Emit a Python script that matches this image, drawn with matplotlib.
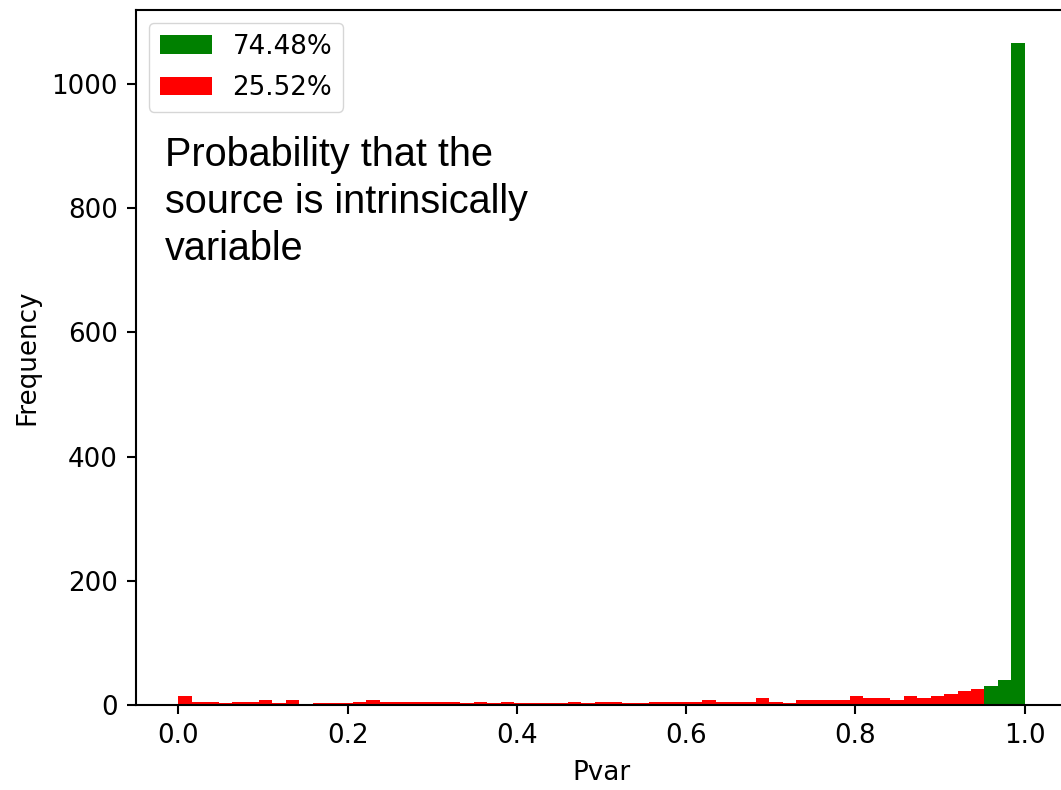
# -*- coding: utf-8 -*-
import numpy as np
import matplotlib
matplotlib.use("Agg")
import matplotlib.pyplot as plt

n_bins = 63
cuentas_rojo = [15, 5, 5, 3, 5, 5, 8, 3, 8, 0,
                3, 3, 3, 5, 8, 5, 5, 5, 5, 5,
                5, 3, 5, 3, 5, 3, 3, 3, 3, 5,
                3, 5, 5, 3, 3, 5, 5, 5, 5, 8,
                5, 5, 5, 11, 5, 3, 8, 8, 8, 8,
                14, 11, 11, 8, 14, 11, 14, 17, 22, 26]
cuentas_verde = [30, 41, 1066]
etiqueta_verde = "74.48%"
etiqueta_rojo = "25.52%"
texto = "Probability that the\nsource is intrinsically\nvariable"

# Escala (la figura original estaba ampliada ~1.88x)
s = 1.88
plt.rcParams.update({
    "font.size": 10 * s,
    "axes.linewidth": 0.8 * s,
    "xtick.major.size": 3.5 * s,
    "ytick.major.size": 3.5 * s,
    "xtick.major.width": 0.8 * s,
    "ytick.major.width": 0.8 * s,
    "xtick.major.pad": 3.5 * s,
    "ytick.major.pad": 3.5 * s,
    "axes.labelpad": 4 * s,
})

bordes = np.linspace(0, 1, n_bins + 1)
centros = (bordes[:-1] + bordes[1:]) / 2
n_rojo = len(cuentas_rojo)

fig = plt.figure(figsize=(10.61, 7.9), dpi=100)
ax = fig.add_axes([136 / 1061, 85 / 790, 931 / 1061, 695 / 790])

ax.hist(centros[n_rojo:], bins=bordes[n_rojo:], weights=cuentas_verde,
        color="green", label=etiqueta_verde)
ax.hist(centros[:n_rojo], bins=bordes[:n_rojo + 1], weights=cuentas_rojo,
        color="red", label=etiqueta_rojo)

ax.set_xlabel("Pvar")
ax.set_ylabel("Frequency")
ax.legend(loc="upper left", labelspacing=0.6)
ax.text(0.031, 0.818, texto, transform=ax.transAxes, va="top", ha="left",
        fontsize=28.5, linespacing=1.3, family=["Liberation Sans", "DejaVu Sans"])

plt.savefig("out.png", dpi=100)
